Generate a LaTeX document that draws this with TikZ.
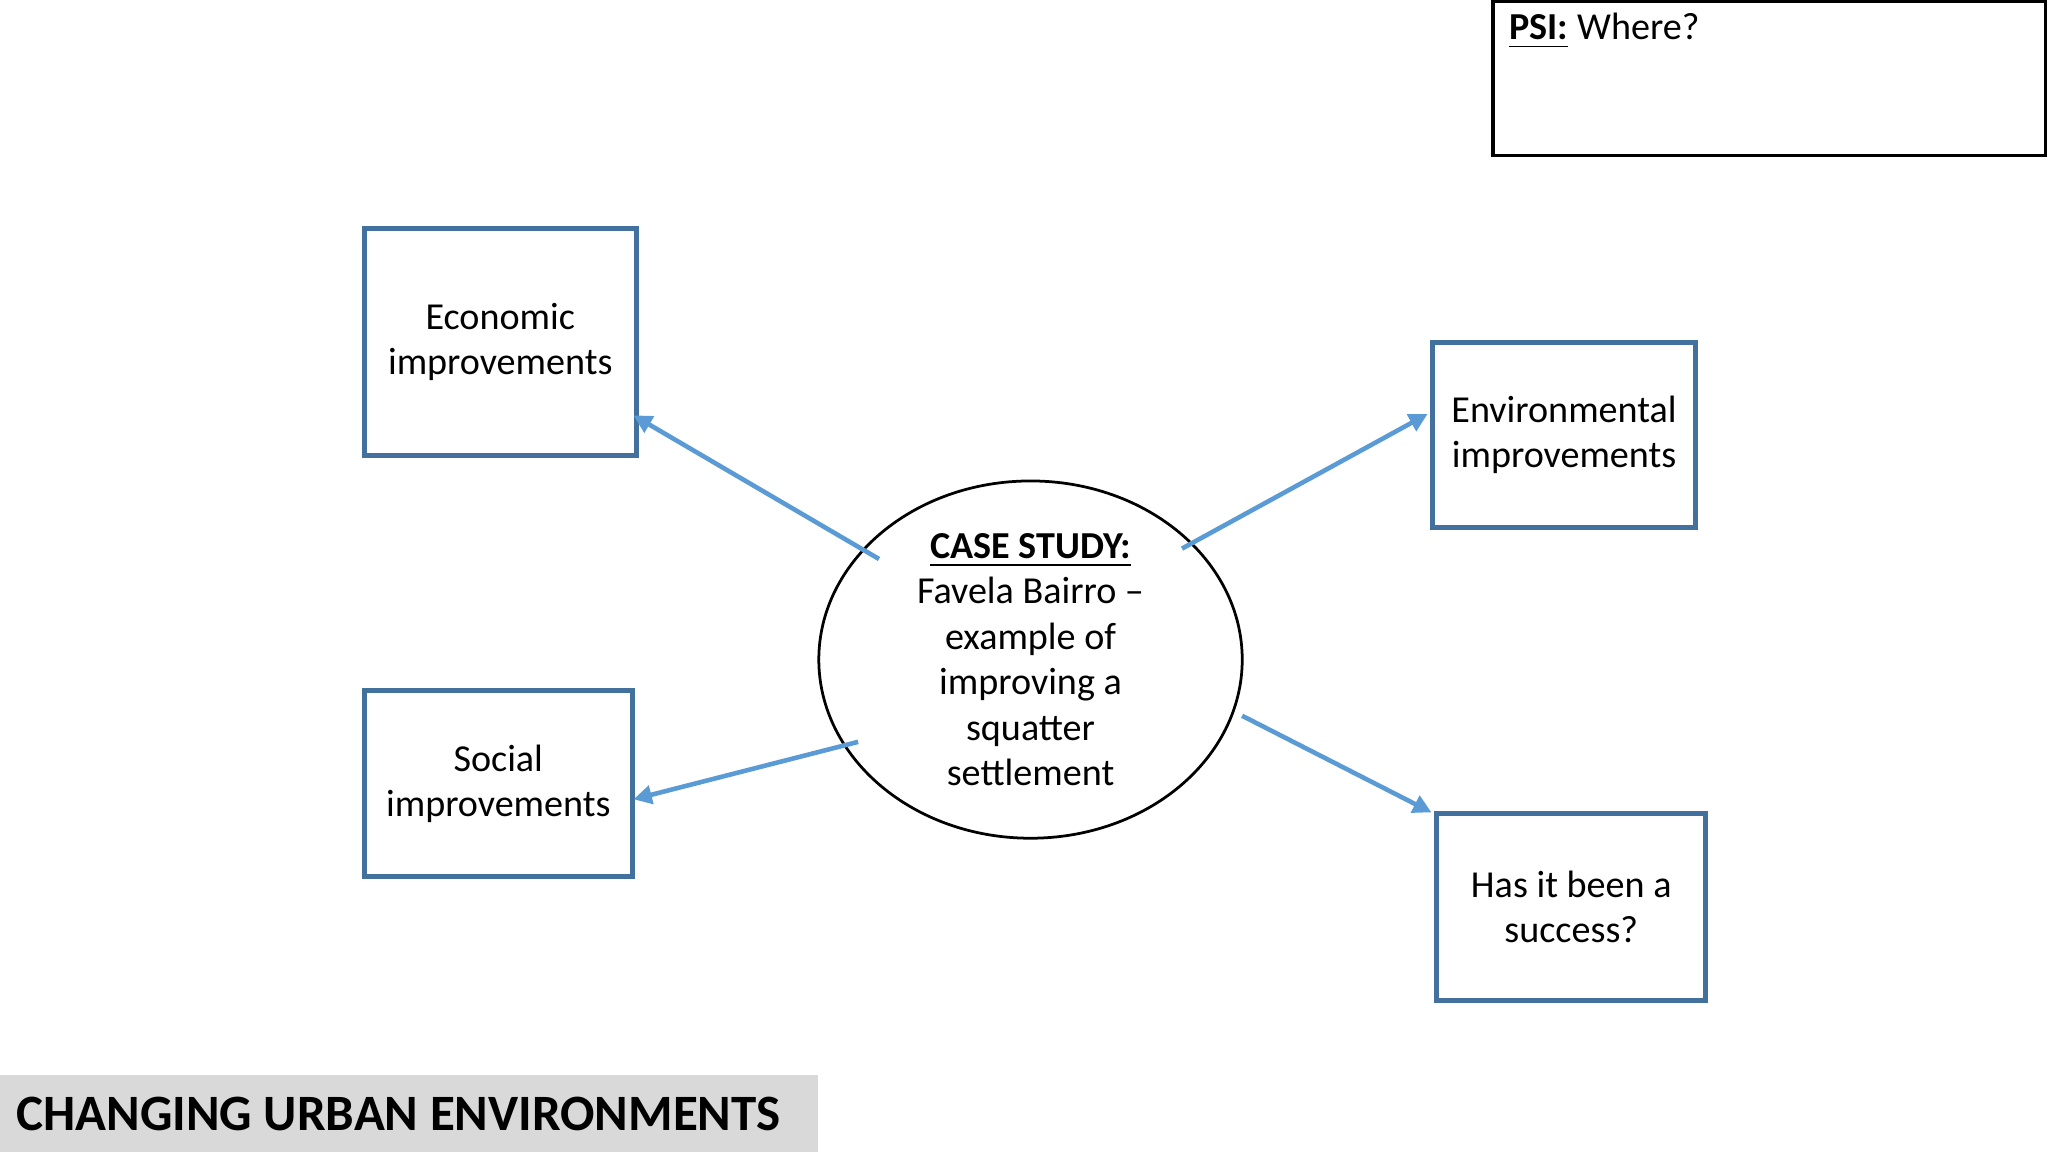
\documentclass[tikz,border=0pt]{standalone}
\usepackage{fontspec}
\setmainfont{Carlito}
\usetikzlibrary{shapes.geometric,arrows.meta}
\definecolor{boxblue}{HTML}{41719C}
\definecolor{arrblue}{HTML}{5B9BD5}
\begin{document}
\begin{tikzpicture}[x=0.01cm,y=-0.01cm,
  box/.style={draw=boxblue,line width=1.1pt,align=center,font=\fontsize{8.3}{9.9}\selectfont,inner sep=0pt},
  arr/.style={draw=arrblue,line width=1pt,-{Triangle[length=4pt,width=4pt]}}]
\useasboundingbox (0,0) rectangle (1568,882);
\node[draw,line width=0.8pt,minimum width=4.23cm,minimum height=1.18cm,inner sep=0pt] (psi) at (1354.5,60) {};
\node[anchor=west,font=\fontsize{8.3}{9.9}\selectfont,inner sep=0pt] (psit) at (1155,24) {\textbf{\underline{PSI:}} Where?};
\node[box,minimum width=2.08cm,minimum height=1.74cm] (econ) at (383,262) {Economic\\improvements};
\node[box,minimum width=2.01cm,minimum height=1.42cm] (env) at (1197.5,333) {Environmental\\improvements};
\node[box,minimum width=2.05cm,minimum height=1.42cm] (soc) at (381.5,600) {Social\\improvements};
\node[box,minimum width=2.06cm,minimum height=1.43cm] (succ) at (1203,694.5) {Has it been a\\success?};
\node[ellipse,draw,line width=0.6pt,minimum width=3.24cm,minimum height=2.16cm,inner sep=0pt,align=center,font=\fontsize{8.3}{9.9}\selectfont] (cs) at (789,505) {\textbf{\underline{CASE STUDY:}}\\Favela Bairro --\\example of\\improving a\\squatter\\settlement};
\coordinate (e1) at (485,318);
\coordinate (e2) at (1093,317);
\coordinate (e3) at (485,612);
\coordinate (e4) at (1096,622);
\coordinate (s1) at (673,428);
\coordinate (s2) at (905,420);
\coordinate (s3) at (657,568);
\coordinate (s4) at (951,548);
\draw[arr] (s1) -- (e1);
\draw[arr] (s2) -- (e2);
\draw[arr] (s3) -- (e3);
\draw[arr] (s4) -- (e4);
\node[fill=black!15,minimum width=6.26cm,minimum height=0.59cm,inner sep=0pt] (ban) at (313,852.5) {};
\node[anchor=west,font=\fontsize{11.1}{13}\selectfont\bfseries,inner sep=0pt] (bant) at (12,853) {CHANGING URBAN ENVIRONMENTS};
\end{tikzpicture}
\end{document}
